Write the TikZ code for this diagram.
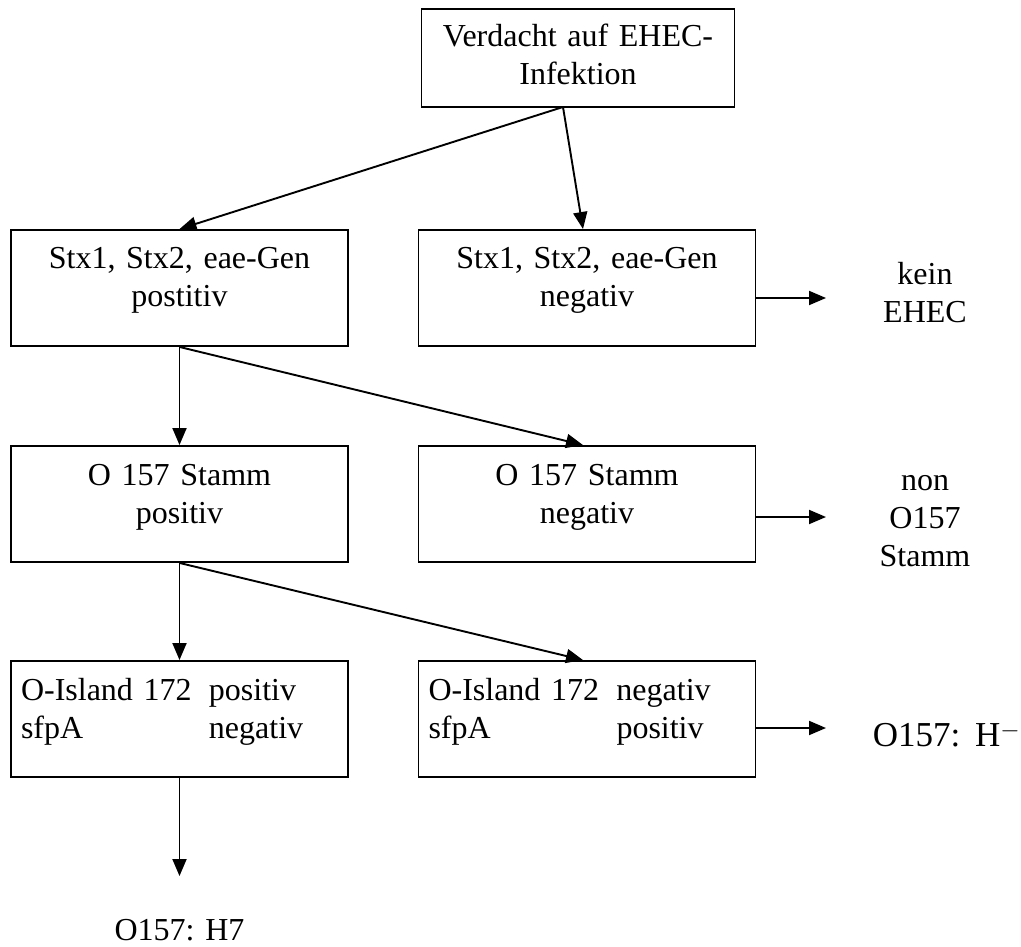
\documentclass[tikz,border=0pt]{standalone}
\usepackage{fontspec}
\setmainfont{Liberation Serif}
\usetikzlibrary{arrows.meta,positioning}

\begin{document}
\begin{tikzpicture}[x=1pt, y=-1pt, line width=1.9pt, >={Triangle[length=17pt,width=14pt]}]
    \tikzstyle{topbox} = [draw, rectangle, text width=293pt, align=center, inner xsep=10pt, inner ysep=10pt, text height=28pt, text depth=50pt, font=\fontsize{32}{38}\selectfont]
    \tikzstyle{box} = [draw, rectangle, text width=317pt, align=center, inner xsep=10pt, inner ysep=10pt, text height=29pt, text depth=67pt, font=\fontsize{32}{38}\selectfont]
    \tikzstyle{twocol} = [box, align=left]
    \tikzstyle{result} = [align=center, inner sep=0pt, font=\fontsize{32}{38}\selectfont]

    \useasboundingbox (0,0) rectangle (1021,947);

    \node[topbox] (verdacht) at (578,58) {Verdacht auf EHEC-\\Infektion};

    \node[box] (stxpos) at (179.5,288) {Stx1, Stx2, eae-Gen\\postitiv};
    \node[box] (stxneg) at (587,288) {Stx1, Stx2, eae-Gen\\negativ};
    \node[result] (keinehec) at (925,293) {kein\\EHEC};

    \node[box] (opos) at (179.5,504) {O 157 Stamm\\positiv};
    \node[box] (oneg) at (587,504) {O 157 Stamm\\negativ};
    \node[result] (nono) at (925,521) {non\\O157\\Stamm};

    \node[twocol] (islpos) at (179.5,719) {\begin{tabular}[t]{@{}p{188pt}@{}l@{}}O-Island 172 & positiv\\ sfpA & negativ\end{tabular}};
    \node[twocol] (islneg) at (587,719) {\begin{tabular}[t]{@{}p{188pt}@{}l@{}}O-Island 172 & negativ\\ sfpA & positiv\end{tabular}};
    \node[result, anchor=west, font=\fontsize{35}{42}\selectfont] (hminus) at (872,735) {O157:\ \,H$^{-}$};
    \node[result] (hseven) at (179.5,930) {O157: H7};

    % Verzweigungspunkte
    \coordinate (split) at (563,107);
    \coordinate (keintip) at (826,298);
    \coordinate (nontip) at (826,517);
    \coordinate (hminustip) at (826,728);
    \coordinate (hseventip) at (179.5,876);

    \draw[->] (split) -- (stxpos.north);
    \draw[->] (split) -- (stxneg.north -| 583,0);
    \draw[->] (stxpos.south) -- (opos.north);
    \draw[->] (stxpos.south) -- (oneg.north -| 583,0);
    \draw[->] (opos.south) -- (islpos.north);
    \draw[->] (opos.south) -- (islneg.north -| 583,0);
    \draw[->] (islpos.south) -- (hseventip);

    \draw[->] (stxneg.east |- keintip) -- (keintip);
    \draw[->] (oneg.east |- nontip) -- (nontip);
    \draw[->] (islneg.east |- hminustip) -- (hminustip);
\end{tikzpicture}
\end{document}
